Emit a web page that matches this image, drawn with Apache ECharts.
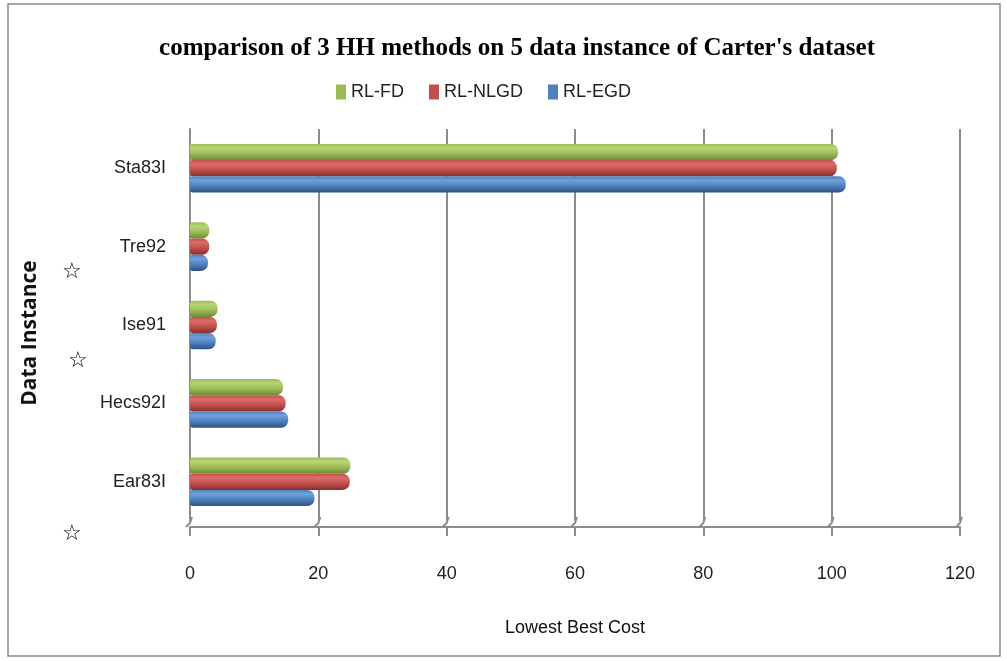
<!DOCTYPE html>
<html>
<head>
<meta charset="utf-8">
<script src="https://cdn.jsdelivr.net/npm/echarts@6/dist/echarts.min.js"></script>
<style>
  html, body { margin: 0; padding: 0; background: #fff; }
  #chart { width: 1007px; height: 661px; }
</style>
</head>
<body>
<div id="chart"></div>
<script>
// Data instances, bottom to top along the category axis
const instances = ['Ear83I', 'Hecs92I', 'Ise91', 'Tre92', 'Sta83I'];
// Lowest best cost per method
const rlFD   = [25.0, 14.5, 4.3, 3.0, 101.0];
const rlNLGD = [24.9, 14.9, 4.2, 3.0, 100.8];
const rlEGD  = [19.4, 15.3, 4.0, 2.8, 102.2];
const costTicks = [0, 20, 40, 60, 80, 100, 120];
const methods = ['RL-FD', 'RL-NLGD', 'RL-EGD'];

const chart = echarts.init(document.getElementById('chart'));

function cylinder(light, mid, dark) {
  return new echarts.graphic.LinearGradient(0, 0, 0, 1, [
    { offset: 0, color: mid },
    { offset: 0.25, color: light },
    { offset: 0.6, color: mid },
    { offset: 1, color: dark }
  ]);
}

const palette = {
  'RL-FD':   { flat: '#9bbb59', fill: cylinder('#b9d675', '#9bbb59', '#6b8a37') },
  'RL-NLGD': { flat: '#c0504d', fill: cylinder('#df6b68', '#c0504d', '#85302e') },
  'RL-EGD':  { flat: '#4f81bd', fill: cylinder('#6fa0dc', '#4f81bd', '#2c5283') }
};

function barSeries(name, data) {
  return {
    type: 'bar',
    name: name,
    data: data,
    barGap: '0%',
    barCategoryGap: '38%',
    silent: true,
    itemStyle: { color: palette[name].fill, borderRadius: [3, 7, 7, 3] }
  };
}

const labelFont = "'Liberation Sans', 'DejaVu Sans', sans-serif";

chart.setOption({
  animation: false,
  backgroundColor: '#ffffff',
  title: {
    text: "comparison of 3 HH methods on 5 data instance of Carter's dataset",
    left: 512,
    textAlign: 'center',
    top: 31,
    textStyle: {
      fontFamily: "'Liberation Serif', 'DejaVu Serif', serif",
      fontWeight: 'bold',
      fontSize: 25,
      color: '#000'
    }
  },
  legend: {
    left: 331,
    top: 78,
    icon: 'rect',
    itemWidth: 10,
    itemHeight: 15,
    itemGap: 25,
    data: methods.map(m => ({ name: m, itemStyle: { color: palette[m].flat } })),
    textStyle: { fontFamily: labelFont, fontSize: 18, color: '#222' }
  },
  grid: { left: 190, right: 47, top: 129, bottom: 140 },
  xAxis: {
    type: 'value',
    min: 0,
    max: 120,
    interval: 20,
    offset: 6,
    name: 'Lowest Best Cost',
    nameLocation: 'middle',
    nameGap: 92,
    nameTextStyle: { fontFamily: labelFont, fontSize: 18, color: '#111' },
    axisLine: { show: true, lineStyle: { color: '#8c8c8c', width: 2 } },
    axisTick: { show: true, length: 9, lineStyle: { color: '#8c8c8c', width: 2 } },
    axisLabel: {
      margin: 38,
      fontFamily: labelFont,
      fontSize: 18,
      color: '#222',
      formatter: v => costTicks.includes(v) ? String(v) : ''
    },
    splitLine: { show: true, lineStyle: { color: '#8c8c8c', width: 2 } }
  },
  yAxis: {
    type: 'category',
    data: instances,
    axisLine: { show: true, onZero: false, lineStyle: { color: '#8c8c8c', width: 2 } },
    axisTick: { show: false },
    axisLabel: { margin: 24, fontFamily: labelFont, fontSize: 18, color: '#222' }
  },
  // first series sits at the top of each group
  series: [
    barSeries('RL-FD', rlFD),
    barSeries('RL-NLGD', rlNLGD),
    barSeries('RL-EGD', rlEGD)
  ]
});

// Floor edge connectors and page frame, placed from the axis scale
const gridBottom = 661 - 140;
const extras = [];
costTicks.forEach(v => {
  const x = chart.convertToPixel({ xAxisIndex: 0 }, v);
  extras.push({
    type: 'polyline',
    silent: true,
    shape: { points: [[x - 4, gridBottom + 6], [x, gridBottom + 2], [x + 2, gridBottom - 4]] },
    style: { stroke: '#8c8c8c', lineWidth: 2, fill: null }
  });
});
extras.push({
  type: 'rect',
  silent: true,
  shape: { x: 8, y: 4, width: 992, height: 652 },
  style: { stroke: '#8a8a8a', lineWidth: 1.5, fill: null }
});
// Category axis title, rotated
extras.push({
  type: 'text',
  silent: true,
  x: 30,
  y: 333,
  rotation: Math.PI / 2,
  style: {
    text: 'Data Instance',
    fontFamily: "'Open Sans', 'DejaVu Sans', sans-serif",
    fontWeight: 'bold',
    fontSize: 21,
    fill: '#111',
    textAlign: 'center',
    textVerticalAlign: 'middle'
  }
});
// Star markers beside the marked instances
[['Tre92', 62, 26], ['Ise91', 68, 36], ['Ear83I', 62, 52]].forEach(([name, x, dy]) => {
  const y = chart.convertToPixel({ yAxisIndex: 0 }, name);
  extras.push({
    type: 'text',
    silent: true,
    x: x,
    y: y + dy,
    style: { text: '☆', fontSize: 22, fontFamily: "'DejaVu Sans', sans-serif", fill: '#000', textAlign: 'left', textVerticalAlign: 'middle' }
  });
});
chart.setOption({ graphic: extras });
</script>
</body>
</html>
